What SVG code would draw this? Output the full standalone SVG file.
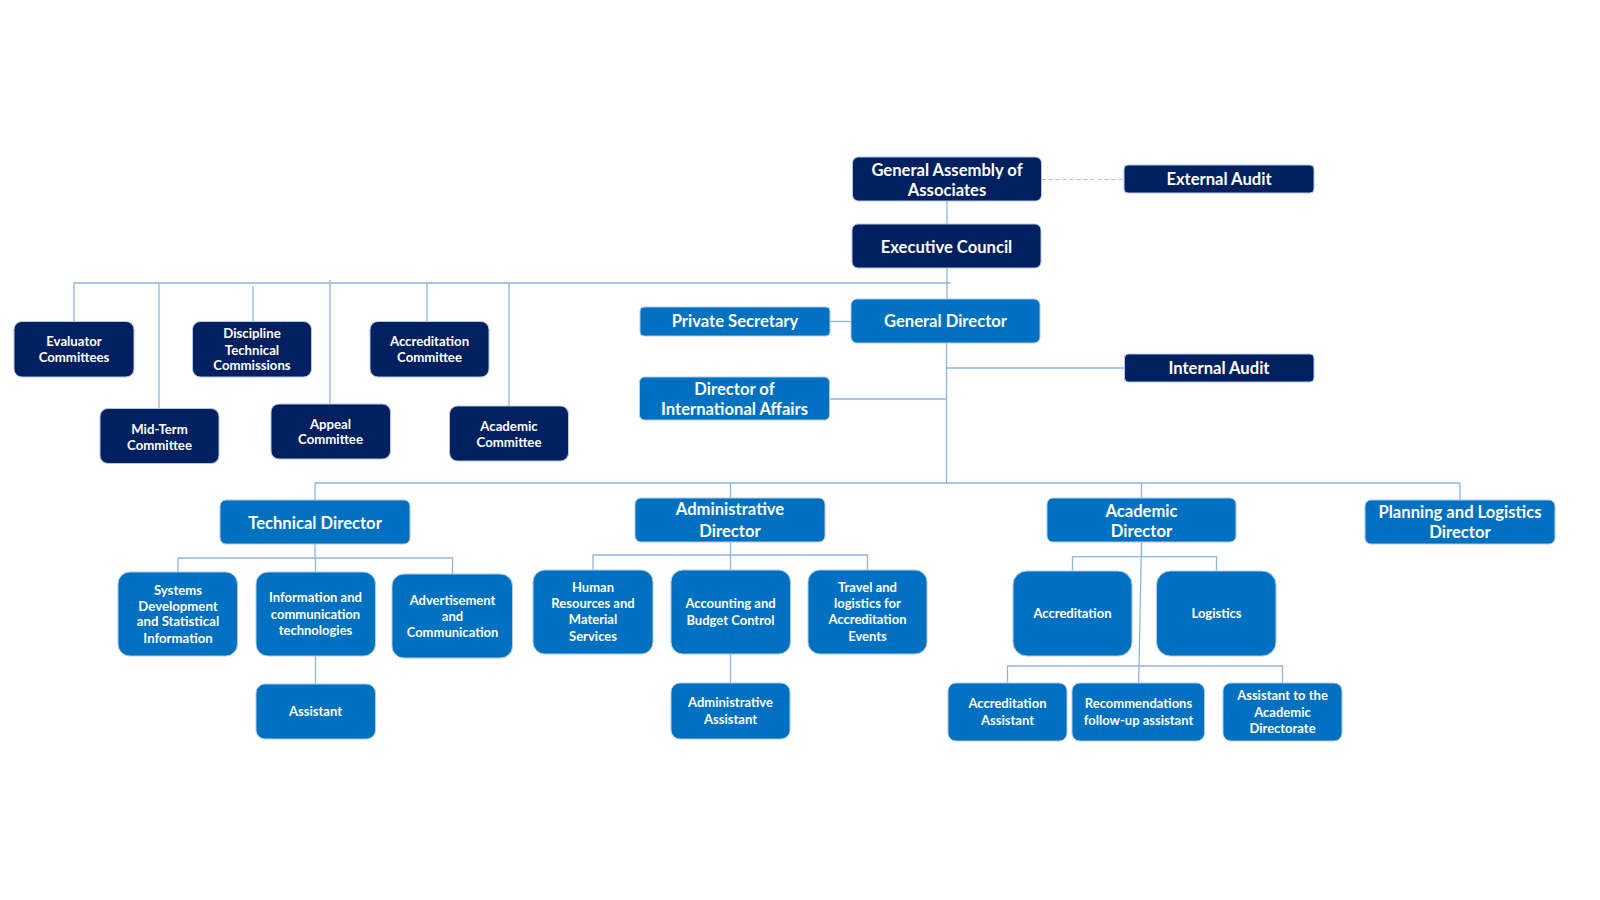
<svg xmlns="http://www.w3.org/2000/svg" width="1600" height="900" viewBox="0 0 1600 900">
<style>
.dk{fill:#002060;stroke:#b4c7e7;stroke-width:1}
.bl{fill:#0070C0;stroke:#b4c7e7;stroke-width:1}
.cn{fill:none;stroke:#8db3e2;stroke-width:1.3}
.ds{fill:none;stroke:#9dc3e6;stroke-width:1.2;stroke-dasharray:4 3}
text{fill:#ffffff;font-family:Lato,"Open Sans","Liberation Sans",sans-serif;font-weight:bold;text-anchor:middle}
.t16{font-size:16.6px}
.t13{font-size:13.2px}
.t12{font-size:13px}
</style>
<rect width="1600" height="900" fill="#ffffff"/>
<g id="connectors">
<path class="ds" d="M1041.5 179.5 H1124"/>
<path class="cn" d="M947 201 V224 M947 268 V299"/>
<path class="cn" d="M73.5 283 H950"/>
<path class="cn" d="M74 283 V321.5 M159 283 V408.5 M253 286 V321.5 M330 280 V404 M427 283 V321.5 M509 283 V406"/>
<path class="cn" d="M830 321.5 H851"/>
<path class="cn" d="M946.5 343 V483 M946.5 368 H1124.5 M829.5 399 H946.5"/>
<path class="cn" d="M315 483 H1460 M315 483 V500 M730.5 483 V498 M1141.5 483 V498 M1460 483 V500"/>
<path class="cn" d="M315 544 V558 M178 572 V558 H452.5 V574 M315.5 558 V572 M315.5 656 V684"/>
<path class="cn" d="M730.5 542 V555 M593 570 V555 H867.5 V570 M730.5 555 V570 M730.5 654 V683"/>
<path class="cn" d="M1141.5 542 V556.7 M1072.5 571 V556.7 H1216.5 V571 M1141.5 542 L1138.7 683 M1007.5 683 V666 H1282.5 V683"/>
</g>
<g id="general-assembly"><rect class="dk" x="852.5" y="157" width="189" height="44" rx="6"/><text class="t16" x="947" y="175.5">General Assembly of</text><text class="t16" x="947" y="195.5">Associates</text></g>
<g id="external-audit"><rect class="dk" x="1124" y="165" width="190" height="28" rx="4"/><text class="t16" x="1219" y="185">External Audit</text></g>
<g id="executive-council"><rect class="dk" x="852" y="224" width="189" height="44" rx="6"/><text class="t16" x="946.5" y="253">Executive Council</text></g>
<g id="evaluator-committees"><rect class="dk" x="14" y="321.5" width="120" height="55.5" rx="8"/><text class="t13" x="74" y="345.5">Evaluator</text><text class="t13" x="74" y="362">Committees</text></g>
<g id="discipline-commissions"><rect class="dk" x="192.5" y="321.5" width="119" height="55.5" rx="8"/><text class="t13" x="252" y="338">Discipline</text><text class="t13" x="252" y="354.5">Technical</text><text class="t13" x="252" y="370">Commissions</text></g>
<g id="accreditation-committee"><rect class="dk" x="370" y="321.5" width="119" height="55.5" rx="8"/><text class="t13" x="429.5" y="345.5">Accreditation</text><text class="t13" x="429.5" y="362">Committee</text></g>
<g id="mid-term-committee"><rect class="dk" x="100" y="408.5" width="119" height="55" rx="8"/><text class="t13" x="159.5" y="433.5">Mid-Term</text><text class="t13" x="159.5" y="449.5">Committee</text></g>
<g id="appeal-committee"><rect class="dk" x="271" y="404" width="119.5" height="55" rx="8"/><text class="t13" x="330.5" y="428.5">Appeal</text><text class="t13" x="330.5" y="444">Committee</text></g>
<g id="academic-committee"><rect class="dk" x="449.5" y="406" width="119" height="55" rx="8"/><text class="t13" x="509" y="430.5">Academic</text><text class="t13" x="509" y="447">Committee</text></g>
<g id="private-secretary"><rect class="bl" x="640" y="307" width="190" height="29" rx="4"/><text class="t16" x="735" y="327">Private Secretary</text></g>
<g id="general-director"><rect class="bl" x="851" y="299" width="189" height="44" rx="6"/><text class="t16" x="945.5" y="327">General Director</text></g>
<g id="internal-audit"><rect class="dk" x="1124.5" y="354" width="189.5" height="28" rx="4"/><text class="t16" x="1219" y="374">Internal Audit</text></g>
<g id="director-international"><rect class="bl" x="639.5" y="377" width="190" height="43" rx="5"/><text class="t16" x="734.5" y="394.5">Director of</text><text class="t16" x="734.5" y="415">International Affairs</text></g>
<g id="technical-director"><rect class="bl" x="220" y="500" width="190" height="44" rx="6"/><text class="t16" x="315" y="528.5">Technical Director</text></g>
<g id="administrative-director"><rect class="bl" x="635" y="498" width="190" height="44" rx="6"/><text class="t16" x="730" y="515">Administrative</text><text class="t16" x="730" y="536.5">Director</text></g>
<g id="academic-director"><rect class="bl" x="1047" y="498" width="189" height="44" rx="6"/><text class="t16" x="1141.5" y="517">Academic</text><text class="t16" x="1141.5" y="537">Director</text></g>
<g id="planning-director"><rect class="bl" x="1365" y="500" width="190" height="44" rx="6"/><text class="t16" x="1460" y="518">Planning and Logistics</text><text class="t16" x="1460" y="538">Director</text></g>
<g id="systems-development"><rect class="bl" x="118" y="572" width="119.5" height="84" rx="12"/><text class="t13" x="178" y="594.5">Systems</text><text class="t13" x="178" y="611">Development</text><text class="t13" x="178" y="626">and Statistical</text><text class="t13" x="178" y="642.5">Information</text></g>
<g id="ict"><rect class="bl" x="256" y="572" width="119.5" height="84" rx="12"/><text class="t12" x="315.5" y="602">Information and</text><text class="t12" x="315.5" y="619">communication</text><text class="t12" x="315.5" y="635">technologies</text></g>
<g id="advertisement"><rect class="bl" x="392" y="574" width="120.5" height="84" rx="12"/><text class="t12" x="452.5" y="605">Advertisement</text><text class="t12" x="452.5" y="621">and</text><text class="t12" x="452.5" y="637">Communication</text></g>
<g id="assistant"><rect class="bl" x="256" y="684" width="119.5" height="55" rx="9"/><text class="t12" x="315.5" y="716">Assistant</text></g>
<g id="human-resources"><rect class="bl" x="533" y="570" width="120" height="84" rx="12"/><text class="t12" x="593" y="592">Human</text><text class="t12" x="593" y="608">Resources and</text><text class="t12" x="593" y="624">Material</text><text class="t12" x="593" y="641">Services</text></g>
<g id="accounting"><rect class="bl" x="671" y="570" width="119.5" height="84" rx="12"/><text class="t12" x="730.5" y="608">Accounting and</text><text class="t12" x="730.5" y="625">Budget Control</text></g>
<g id="travel-logistics"><rect class="bl" x="808" y="570" width="119" height="84" rx="12"/><text class="t12" x="867.5" y="592">Travel and</text><text class="t12" x="867.5" y="608">logistics for</text><text class="t12" x="867.5" y="624">Accreditation</text><text class="t12" x="867.5" y="641">Events</text></g>
<g id="administrative-assistant"><rect class="bl" x="671" y="683" width="119" height="56" rx="9"/><text class="t12" x="730.5" y="707">Administrative</text><text class="t12" x="730.5" y="723.5">Assistant</text></g>
<g id="accreditation"><rect class="bl" x="1013" y="571" width="119" height="85" rx="14"/><text class="t12" x="1072.5" y="618">Accreditation</text></g>
<g id="logistics"><rect class="bl" x="1156.5" y="571" width="119.5" height="85" rx="14"/><text class="t12" x="1216.5" y="618">Logistics</text></g>
<g id="accreditation-assistant"><rect class="bl" x="948" y="683" width="119" height="58" rx="8"/><text class="t12" x="1007.5" y="708">Accreditation</text><text class="t12" x="1007.5" y="725">Assistant</text></g>
<g id="recommendations-assistant"><rect class="bl" x="1072" y="683" width="132.5" height="58" rx="8"/><text class="t12" x="1138.5" y="708">Recommendations</text><text class="t12" x="1138.5" y="725">follow-up assistant</text></g>
<g id="assistant-academic"><rect class="bl" x="1223" y="683" width="119" height="58" rx="8"/><text class="t12" x="1282.5" y="700">Assistant to the</text><text class="t12" x="1282.5" y="716.5">Academic</text><text class="t12" x="1282.5" y="732.5">Directorate</text></g>
</svg>
